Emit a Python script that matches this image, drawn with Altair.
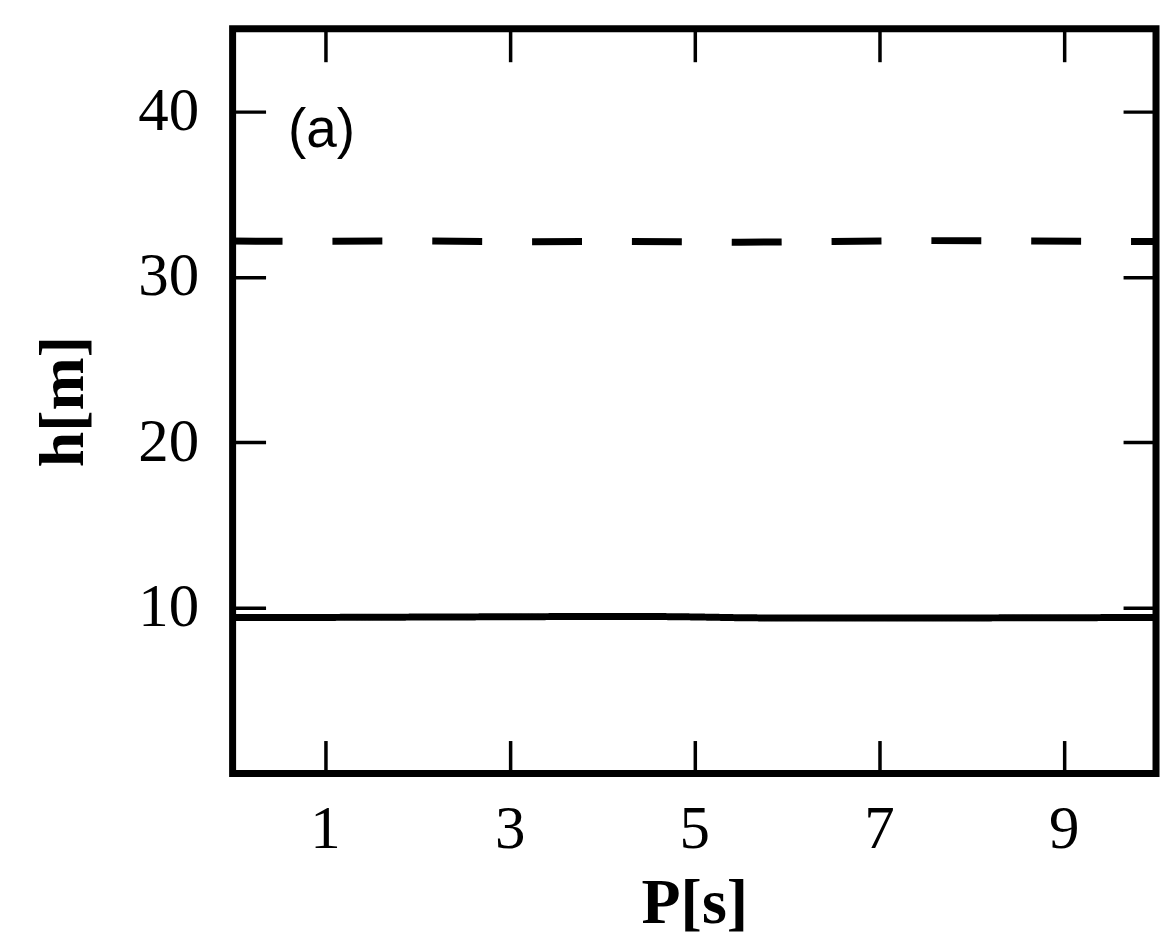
import altair as alt
import pandas as pd

# Data
P_solid = [0, 1, 2, 3, 4, 4.5, 5, 5.5, 6, 7, 8, 9, 10]
h_solid = [9.42, 9.43, 9.45, 9.47, 9.49, 9.49, 9.46, 9.41, 9.39, 9.39, 9.40, 9.41, 9.43]
P_dashed = [0, 1, 2, 3, 4, 5, 5.5, 6.5, 7.5, 8.5, 9.5, 10]
h_dashed = [32.17, 32.16, 32.18, 32.13, 32.15, 32.12, 32.10, 32.14, 32.20, 32.18, 32.15, 32.15]
x_ticks = [1, 3, 5, 7, 9]
y_ticks = [10, 20, 30, 40]
panel_label = "(a)"

df = pd.concat([
    pd.DataFrame({"P": P_solid, "h": h_solid, "series": "solid"}),
    pd.DataFrame({"P": P_dashed, "h": h_dashed, "series": "dashed"}),
])
lab = pd.DataFrame({"P": [0.6], "h": [38.9], "t": [panel_label]})

xs = alt.Scale(domain=[0, 10], nice=False, zero=False)
ys = alt.Scale(domain=[0, 45], nice=False, zero=False)

TICK = 33
serif = "Liberation Serif"

lines = alt.Chart(df).mark_line(color="black", strokeWidth=7, clip=True).encode(
    x=alt.X("P:Q", scale=xs, axis=alt.Axis(
        values=x_ticks, orient="bottom", offset=-TICK, tickSize=TICK, tickWidth=3.5,
        tickColor="black", domain=False, grid=False, labelPadding=26,
        labelFont=serif, labelFontSize=61, labelColor="black",
        title="P[s]", titleFont=serif, titleFontSize=64, titleFontWeight="bold",
        titleColor="black", titlePadding=12)),
    y=alt.Y("h:Q", scale=ys, axis=alt.Axis(
        values=y_ticks, orient="left", offset=-TICK, tickSize=TICK, tickWidth=3.5,
        tickColor="black", domain=False, grid=False, labelPadding=34,
        labelFont=serif, labelFontSize=61, labelColor="black",
        title="h[m]", titleFont=serif, titleFontSize=64, titleFontWeight="bold",
        titleColor="black", titlePadding=42)),
    strokeDash=alt.StrokeDash("series:N", scale=alt.Scale(
        domain=["solid", "dashed"], range=[[1, 0], [50, 50]]), legend=None),
    detail="series:N",
)

text = alt.Chart(lab).mark_text(
    align="left", baseline="middle", font="Liberation Sans", fontSize=55, color="black"
).encode(
    x=alt.X("P:Q", scale=xs, axis=alt.Axis(
        values=x_ticks, orient="top", offset=-TICK, tickSize=TICK, tickWidth=3.5,
        tickColor="black", domain=False, grid=False, labels=False, title=None)),
    y=alt.Y("h:Q", scale=ys, axis=alt.Axis(
        values=y_ticks, orient="right", offset=-TICK, tickSize=TICK, tickWidth=3.5,
        tickColor="black", domain=False, grid=False, labels=False, title=None)),
    text="t:N",
)

chart = alt.layer(lines, text).resolve_axis(x="independent", y="independent").properties(
    width=925, height=746,
    autosize=alt.AutoSizeParams(type="none"),
    padding={"left": 225, "top": 20, "right": 5, "bottom": 164},
    background="white",
).configure_view(stroke="black", strokeWidth=7)

chart.save("out.html", embed_options={"renderer": "svg", "actions": False})
